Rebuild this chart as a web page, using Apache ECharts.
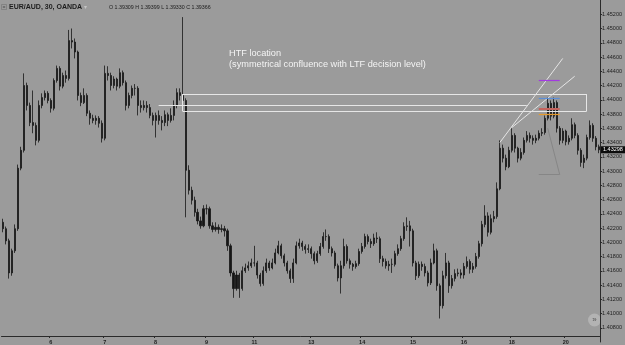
<!DOCTYPE html>
<html>
<head>
<meta charset="utf-8">
<script src="https://cdn.jsdelivr.net/npm/echarts@6/dist/echarts.min.js"></script>
<style>
html, body { margin: 0; padding: 0; background: #9b9b9b; }
#chart { width: 625px; height: 345px; }
</style>
</head>
<body>
<div id="chart"></div>
<script>
// EUR/AUD 30m (OANDA) - prices, one candle ~ 3 px
const firstOpen = 1.4228;

const closes = [
  1.4219, 1.4202, 1.4157, 1.4188, 1.4219, 1.4304, 1.4329, 1.4420, 1.4392, 1.4368,
  1.4364, 1.4343, 1.4392, 1.4403, 1.4409, 1.4399, 1.4388, 1.4427, 1.4444, 1.4419,
  1.4434, 1.4430, 1.4483, 1.4481, 1.4467, 1.4406, 1.4396, 1.4406, 1.4381, 1.4374,
  1.4371, 1.4374, 1.4367, 1.4346, 1.4437, 1.4434, 1.4420, 1.4429, 1.4419, 1.4438,
  1.4424, 1.4392, 1.4406, 1.4416, 1.4416, 1.4392, 1.4389, 1.4392, 1.4389, 1.4378,
  1.4371, 1.4378, 1.4371, 1.4368, 1.4379, 1.4371, 1.4378, 1.4392, 1.4410, 1.4406,
  1.4399, 1.4301, 1.4273, 1.4259, 1.4242, 1.4230, 1.4223, 1.4247, 1.4247, 1.4223,
  1.4218, 1.4221, 1.4218, 1.4219, 1.4216, 1.4195, 1.4157, 1.4135, 1.4154, 1.4135,
  1.4160, 1.4164, 1.4167, 1.4171, 1.4171, 1.4154, 1.4142, 1.4160, 1.4171, 1.4164,
  1.4171, 1.4185, 1.4195, 1.4181, 1.4171, 1.4160, 1.4149, 1.4171, 1.4195, 1.4199,
  1.4194, 1.4190, 1.4191, 1.4184, 1.4174, 1.4184, 1.4194, 1.4208, 1.4208, 1.4191,
  1.4185, 1.4167, 1.4150, 1.4167, 1.4194, 1.4174, 1.4169, 1.4166, 1.4170, 1.4187,
  1.4194, 1.4208, 1.4201, 1.4198, 1.4206, 1.4205, 1.4177, 1.4173, 1.4167, 1.4169,
  1.4169, 1.4184, 1.4191, 1.4205, 1.4222, 1.4223, 1.4216, 1.4171, 1.4153, 1.4169,
  1.4166, 1.4157, 1.4143, 1.4171, 1.4188, 1.4139, 1.4111, 1.4153, 1.4171, 1.4139,
  1.4149, 1.4156, 1.4157, 1.4154, 1.4166, 1.4173, 1.4162, 1.4166, 1.4180, 1.4198,
  1.4225, 1.4237, 1.4214, 1.4233, 1.4236, 1.4275, 1.4332, 1.4318, 1.4306, 1.4329,
  1.4350, 1.4332, 1.4318, 1.4326, 1.4343, 1.4350, 1.4346, 1.4343, 1.4346, 1.4353,
  1.4354, 1.4374, 1.4395, 1.4377, 1.4396, 1.4360, 1.4343, 1.4356, 1.4341, 1.4346,
  1.4365, 1.4350, 1.4329, 1.4312, 1.4318, 1.4347, 1.4364, 1.4346, 1.4334, 1.43298
];

const highs = [
  1.4233, 1.4222, 1.4205, 1.4191, 1.4225, 1.4309, 1.4334, 1.4437, 1.4424, 1.4396,
  1.4413, 1.4368, 1.4399, 1.4409, 1.4413, 1.4412, 1.4402, 1.4430, 1.4448, 1.4447,
  1.4438, 1.4441, 1.4498, 1.4500, 1.4486, 1.4469, 1.4410, 1.4416, 1.4409, 1.4385,
  1.4379, 1.4378, 1.4377, 1.4371, 1.4448, 1.4447, 1.4438, 1.4433, 1.4431, 1.4444,
  1.4441, 1.4427, 1.4410, 1.4420, 1.4422, 1.4419, 1.4399, 1.4399, 1.4398, 1.4394,
  1.4382, 1.4382, 1.4385, 1.4377, 1.4385, 1.4382, 1.4388, 1.4399, 1.4416, 1.4416,
  1.4516, 1.4402, 1.4308, 1.4278, 1.4264, 1.4247, 1.4236, 1.4252, 1.4253, 1.4250,
  1.4228, 1.4228, 1.4225, 1.4225, 1.4223, 1.4219, 1.4198, 1.4160, 1.4160, 1.4157,
  1.4166, 1.4170, 1.4173, 1.4177, 1.4195, 1.4174, 1.4157, 1.4166, 1.4177, 1.4174,
  1.4177, 1.4191, 1.4202, 1.4198, 1.4184, 1.4174, 1.4163, 1.4177, 1.4201, 1.4205,
  1.4202, 1.4197, 1.4197, 1.4194, 1.4187, 1.4188, 1.4199, 1.4214, 1.4218, 1.4211,
  1.4194, 1.4188, 1.4170, 1.4174, 1.4205, 1.4197, 1.4177, 1.4171, 1.4174, 1.4191,
  1.4199, 1.4212, 1.4211, 1.4205, 1.4212, 1.4214, 1.4208, 1.4181, 1.4177, 1.4174,
  1.4177, 1.4188, 1.4197, 1.4209, 1.4228, 1.4235, 1.4230, 1.4219, 1.4174, 1.4173,
  1.4173, 1.4170, 1.4160, 1.4177, 1.4198, 1.4191, 1.4142, 1.4160, 1.4185, 1.4174,
  1.4154, 1.4162, 1.4163, 1.4162, 1.4171, 1.4180, 1.4176, 1.4171, 1.4185, 1.4202,
  1.4230, 1.4252, 1.4242, 1.4239, 1.4244, 1.4284, 1.4343, 1.4337, 1.4323, 1.4334,
  1.4360, 1.4353, 1.4334, 1.4332, 1.4347, 1.4356, 1.4354, 1.4350, 1.4351, 1.4357,
  1.4360, 1.4378, 1.4403, 1.4399, 1.4403, 1.4399, 1.4363, 1.4360, 1.4358, 1.4350,
  1.4374, 1.4368, 1.4353, 1.4332, 1.4323, 1.4351, 1.4371, 1.4367, 1.4349, 1.4337
];

const lows = [
  1.4214, 1.4197, 1.4149, 1.4153, 1.4185, 1.4216, 1.4301, 1.4326, 1.4385, 1.4363,
  1.4353, 1.4336, 1.4340, 1.4388, 1.4399, 1.4395, 1.4382, 1.4385, 1.4424, 1.4413,
  1.4416, 1.4424, 1.4427, 1.4472, 1.4458, 1.4399, 1.4391, 1.4394, 1.4377, 1.4365,
  1.4367, 1.4365, 1.4361, 1.4340, 1.4343, 1.4427, 1.4413, 1.4416, 1.4413, 1.4416,
  1.4420, 1.4385, 1.4388, 1.4402, 1.4406, 1.4378, 1.4382, 1.4385, 1.4382, 1.4374,
  1.4364, 1.4347, 1.4365, 1.4357, 1.4363, 1.4363, 1.4368, 1.4371, 1.4388, 1.4399,
  1.4392, 1.4235, 1.4267, 1.4253, 1.4236, 1.4225, 1.4219, 1.4221, 1.4239, 1.4219,
  1.4214, 1.4215, 1.4212, 1.4214, 1.4208, 1.4188, 1.4152, 1.4122, 1.4132, 1.4122,
  1.4132, 1.4157, 1.4160, 1.4164, 1.4166, 1.4149, 1.4138, 1.4139, 1.4157, 1.4160,
  1.4162, 1.4169, 1.4183, 1.4177, 1.4166, 1.4156, 1.4143, 1.4143, 1.4169, 1.4191,
  1.4188, 1.4184, 1.4185, 1.4177, 1.4169, 1.4171, 1.4181, 1.4191, 1.4202, 1.4185,
  1.4180, 1.4163, 1.4145, 1.4128, 1.4163, 1.4170, 1.4163, 1.4160, 1.4163, 1.4167,
  1.4184, 1.4191, 1.4197, 1.4192, 1.4195, 1.4199, 1.4171, 1.4166, 1.4163, 1.4160,
  1.4157, 1.4166, 1.4181, 1.4188, 1.4202, 1.4216, 1.4194, 1.4166, 1.4147, 1.4150,
  1.4160, 1.4152, 1.4138, 1.4140, 1.4169, 1.4132, 1.4093, 1.4107, 1.4149, 1.4129,
  1.4135, 1.4145, 1.4152, 1.4149, 1.4149, 1.4163, 1.4156, 1.4157, 1.4163, 1.4177,
  1.4194, 1.4221, 1.4208, 1.4211, 1.4228, 1.4233, 1.4273, 1.4312, 1.4301, 1.4304,
  1.4326, 1.4326, 1.4312, 1.4315, 1.4323, 1.4340, 1.4340, 1.4337, 1.4339, 1.4343,
  1.4349, 1.4351, 1.4371, 1.4371, 1.4374, 1.4354, 1.4337, 1.4339, 1.4336, 1.4337,
  1.4343, 1.4346, 1.4323, 1.4306, 1.4304, 1.4315, 1.4344, 1.4341, 1.4329, 1.4325
];

// date labels on the time axis and the candle they sit under
const dayLabels = ['6', '7', '8', '9', '11', '13', '14', '15', '16', '18', '20'];
const dayBars = [16, 34, 51, 68, 84, 103, 120, 137, 154, 170, 188];

// price scale
const yMin = 1.406;
const yMax = 1.454;
const yStep = 0.002;

// drawings on the chart: [candle index, price]
const htfBox = [[60, 1.4408], [195, 1.4384]];
const ltfLine = [[52, 1.4392], [175, 1.4392]];
const trendLines = [
  [[166, 1.4340], [187, 1.4458]],
  [[170, 1.4361], [191, 1.4433]]
];
const levelPrices = [1.4427, 1.4402, 1.4388, 1.4379];
const levelSpan = [179, 186];
const triangleLines = [
  [[182, 1.4360], [186, 1.4295]],
  [[179, 1.4295], [186, 1.4295]]
];

const candles = closes.map((c, i) => [i === 0 ? firstOpen : closes[i - 1], c, lows[i], highs[i]]);
const categories = closes.map((_, i) => {
  const k = dayBars.indexOf(i);
  return k >= 0 ? dayLabels[k] : '';
});

function seg(a, b, style) {
  return [{ coord: a, lineStyle: style }, { coord: b }];
}

const white = { color: '#e6e6e6', width: 1, type: 'solid' };
const levelColors = ['#a23be0', '#5d8fd8', '#c4645e', '#e69a2a'];

const marks = [
  // HTF box
  seg([htfBox[0][0], htfBox[0][1]], [htfBox[1][0], htfBox[0][1]], white),
  seg([htfBox[0][0], htfBox[1][1]], [htfBox[1][0], htfBox[1][1]], white),
  seg([htfBox[1][0], htfBox[0][1]], [htfBox[1][0], htfBox[1][1]], white),
  seg([htfBox[0][0], htfBox[0][1]], [htfBox[0][0], htfBox[1][1]], white),
  seg(ltfLine[0], ltfLine[1], white)
];
trendLines.forEach(t => marks.push(seg(t[0], t[1], white)));
triangleLines.forEach(t => marks.push(seg(t[0], t[1], { color: '#868686', width: 1, type: 'solid' })));
levelPrices.forEach((p, k) => marks.push(seg([levelSpan[0], p], [levelSpan[1], p],
  { color: levelColors[k], width: k === 2 ? 2 : 1.2, type: 'solid' })));

const chart = echarts.init(document.getElementById('chart'));

chart.setOption({
  backgroundColor: '#9b9b9b',
  animation: false,
  grid: { left: 0, right: 24, top: 0, bottom: 3 },
  xAxis: {
    type: 'category',
    data: categories,
    boundaryGap: true,
    offset: -6,
    axisLine: { lineStyle: { color: '#2a2a2a', width: 1 } },
    axisTick: { show: true, length: 2, interval: (i, v) => v !== '', lineStyle: { color: '#2a2a2a' } },
    axisLabel: {
      interval: 0, color: '#1e1e1e', fontSize: 5.5, fontWeight: 'bold',
      margin: 3, fontFamily: 'Liberation Sans'
    },
    splitLine: { show: false }
  },
  yAxis: {
    type: 'value',
    position: 'right',
    min: yMin,
    max: yMax,
    interval: yStep,
    axisLine: { show: true, lineStyle: { color: '#2a2a2a', width: 1 } },
    axisTick: { show: true, length: 2, lineStyle: { color: '#2a2a2a' } },
    axisLabel: {
      color: '#1e1e1e', fontSize: 5.5, margin: 2, fontFamily: 'Liberation Sans',
      showMinLabel: false, showMaxLabel: false,
      formatter: v => v.toFixed(5)
    },
    splitLine: { show: false }
  },
  series: [{
    type: 'candlestick',
    data: candles,
    barWidth: 1.6,
    itemStyle: {
      color: '#161616', color0: '#161616',
      borderColor: '#161616', borderColor0: '#161616', borderWidth: 0.8
    },
    markLine: {
      silent: true,
      symbol: ['none', 'none'],
      label: { show: false },
      animation: false,
      data: marks
    }
  }]
});

// header, note, last price tag
const lastClose = closes[closes.length - 1];
const py = chart.convertToPixel({ yAxisIndex: 0 }, lastClose);

chart.setOption({
  graphic: [
    { type: 'rect', shape: { x: 1.5, y: 4.5, width: 5, height: 5 }, style: { fill: 'none', stroke: '#7c7c7c', lineWidth: 0.8 } },
    { type: 'line', shape: { x1: 2.8, y1: 7, x2: 5.2, y2: 7 }, style: { stroke: '#333', lineWidth: 0.8 } },
    { type: 'text', x: 9, y: 7.5, style: { text: 'EUR/AUD, 30, OANDA', fill: '#1c1c1c', font: 'bold 7px "Liberation Sans"', verticalAlign: 'middle' } },
    { type: 'text', x: 84, y: 7.5, style: { text: '▾', fill: '#c4c4c4', font: '6px "DejaVu Sans"', verticalAlign: 'middle' } },
    { type: 'text', x: 109, y: 7.5, style: { text: 'O 1.39309 H 1.39399 L 1.39330 C 1.39366', fill: '#1c1c1c', font: '5.3px "Liberation Sans"', verticalAlign: 'middle' } },
    { type: 'text', x: 229, y: 53, style: { text: 'HTF location', fill: '#f4f4f4', font: '9.2px "Liberation Sans"', verticalAlign: 'middle' } },
    { type: 'text', x: 229, y: 64, style: { text: '(symmetrical confluence with LTF decision level)', fill: '#f4f4f4', font: '9.2px "Liberation Sans"', verticalAlign: 'middle' } },
    { type: 'circle', shape: { cx: 594.5, cy: 320, r: 6.5 }, style: { fill: '#b3b3b3' } },
    { type: 'text', x: 594.5, y: 320, style: { text: '»', fill: '#555', font: '8px "Liberation Sans"', align: 'center', verticalAlign: 'middle' } },
    { type: 'rect', shape: { x: 601, y: py - 3.5, width: 24, height: 7 }, style: { fill: '#0c0c0c' }, z: 100 },
    { type: 'text', x: 603, y: py, style: { text: lastClose.toFixed(5), fill: '#ffffff', font: '5.5px "Liberation Sans"', verticalAlign: 'middle' }, z: 101 }
  ]
});
</script>
</body>
</html>
